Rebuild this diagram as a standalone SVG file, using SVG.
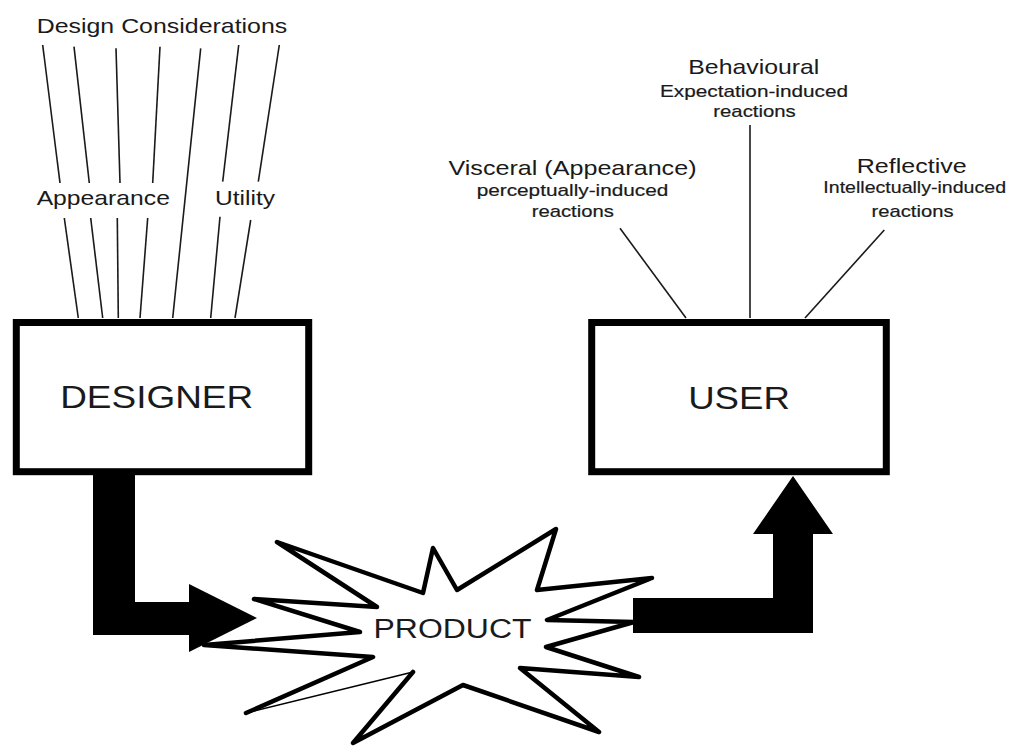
<svg xmlns="http://www.w3.org/2000/svg" width="1011" height="747" viewBox="0 0 1011 747">
  <style>
    .bg { fill: #ffffff; }
    .box { fill: #ffffff; stroke: #000000; stroke-width: 7; }
    .t { font-family: "Liberation Sans", Arial, sans-serif; fill: #1a1a1a; }
    .title { font-size: 21px; }
    .sub { font-size: 17px; stroke: #1a1a1a; stroke-width: 0.2; }
    .big { font-size: 32px; }
    .ray { stroke: #1a1a1a; stroke-width: 1.6; fill: none; stroke-linecap: butt; }
    .arrow { fill: #000000; stroke: none; }
    .burst-fill { fill: #ffffff; stroke: #000000; stroke-width: 1.6; stroke-linejoin: round; }
    .burst-edge { fill: none; stroke: #000000; stroke-width: 4.5; stroke-linejoin: round; stroke-linecap: round; }
  </style>

  <rect class="bg" x="0" y="0" width="1011" height="747"/>

  <!-- connectors: consideration rays, reaction lines and the two flow arrows -->
  <g id="connectors">
    <!-- rays from the considerations down into the designer -->
    <line class="ray" x1="42.7" y1="45" x2="60" y2="183"/>
    <line class="ray" x1="64.3" y1="218" x2="78.3" y2="318"/>
    <line class="ray" x1="74" y1="46.7" x2="89.3" y2="183"/>
    <line class="ray" x1="90.7" y1="218" x2="102.7" y2="318"/>
    <line class="ray" x1="116" y1="48.3" x2="120" y2="183"/>
    <line class="ray" x1="117.3" y1="218" x2="118.3" y2="318"/>
    <line class="ray" x1="160" y1="46.7" x2="152.7" y2="183"/>
    <line class="ray" x1="147.7" y1="218" x2="140" y2="318"/>
    <line class="ray" x1="200.7" y1="48.3" x2="172.7" y2="318"/>
    <line class="ray" x1="238.7" y1="45" x2="222.7" y2="181.7"/>
    <line class="ray" x1="220" y1="216.7" x2="210.7" y2="318"/>
    <line class="ray" x1="279.3" y1="45" x2="258.3" y2="181.7"/>
    <line class="ray" x1="250.7" y1="220" x2="235" y2="318"/>

    <!-- reaction lines from the user -->
    <line class="ray" x1="620" y1="228.3" x2="686" y2="318"/>
    <line class="ray" x1="750" y1="125" x2="750" y2="318"/>
    <line class="ray" x1="884.3" y1="230" x2="805" y2="318"/>
  </g>

  <!-- the product burst: white body, heavy outline except one hairline edge -->
  <g id="product">
    <polygon class="burst-fill" points="277,542 423,593 433,548 457,590 556,529 537,590 652,578 547,620 634,622 546,647 639,677 520,668 599,732 463,685 353,743 413,672 246,713 373,657 204,645 360,632 254,599 377,607"/>
    <polyline class="burst-edge" points="246,713 373,657 204,645 360,632 254,599 377,607 277,542 423,593 433,548 457,590 556,529 537,590 652,578 547,620 634,622 546,647 639,677 520,668 599,732 463,685 353,743 413,672"/>
    <text class="t" x="452.5" y="638" font-size="27" text-anchor="middle" textLength="158" lengthAdjust="spacingAndGlyphs">PRODUCT</text>
  </g>

  <!-- flow arrows: designer to product, product to user -->
  <g id="flow-arrows">
    <polygon class="arrow" points="93,472 135,472 135,602 189,602 189,584 257,618 189,652 189,635 93,635"/>
    <polygon class="arrow" points="633,598 773,598 773,534 753,534 793,476 833,534 813,534 813,633 633,633"/>
  </g>

  <g id="designer">
    <rect class="box" x="16.3" y="322.5" width="292.4" height="149.2"/>
    <text class="t big" x="156.7" y="408" text-anchor="middle" textLength="193" lengthAdjust="spacingAndGlyphs">DESIGNER</text>
  </g>

  <g id="user">
    <rect class="box" x="591.7" y="322.5" width="294.6" height="149.2"/>
    <text class="t big" x="739" y="409" text-anchor="middle" textLength="101.7" lengthAdjust="spacingAndGlyphs">USER</text>
  </g>

  <g id="design-considerations">
    <text class="t title" x="162" y="33" text-anchor="middle" textLength="250.6" lengthAdjust="spacingAndGlyphs">Design Considerations</text>
  </g>

  <g id="appearance">
    <text class="t title" x="103.3" y="204.5" text-anchor="middle" textLength="133.3" lengthAdjust="spacingAndGlyphs">Appearance</text>
  </g>

  <g id="utility">
    <text class="t title" x="245" y="204.5" text-anchor="middle" textLength="60" lengthAdjust="spacingAndGlyphs">Utility</text>
  </g>

  <g id="visceral">
    <text class="t title" x="572.5" y="175" text-anchor="middle" textLength="248" lengthAdjust="spacingAndGlyphs">Visceral (Appearance)</text>
    <text class="t sub" x="572.5" y="196" text-anchor="middle" textLength="191.6" lengthAdjust="spacingAndGlyphs">perceptually-induced</text>
    <text class="t sub" x="572.8" y="216.7" text-anchor="middle" textLength="82.3" lengthAdjust="spacingAndGlyphs">reactions</text>
  </g>

  <g id="behavioural">
    <text class="t title" x="753.8" y="73.5" text-anchor="middle" textLength="131" lengthAdjust="spacingAndGlyphs">Behavioural</text>
    <text class="t sub" x="754" y="96.5" text-anchor="middle" textLength="188" lengthAdjust="spacingAndGlyphs">Expectation-induced</text>
    <text class="t sub" x="754.5" y="116.7" text-anchor="middle" textLength="82.5" lengthAdjust="spacingAndGlyphs">reactions</text>
  </g>

  <g id="reflective">
    <text class="t title" x="911.7" y="173.3" text-anchor="middle" textLength="110" lengthAdjust="spacingAndGlyphs">Reflective</text>
    <text class="t sub" x="914.7" y="193.3" text-anchor="middle" textLength="182.7" lengthAdjust="spacingAndGlyphs">Intellectually-induced</text>
    <text class="t sub" x="912.5" y="216.7" text-anchor="middle" textLength="82" lengthAdjust="spacingAndGlyphs">reactions</text>
  </g>
</svg>
